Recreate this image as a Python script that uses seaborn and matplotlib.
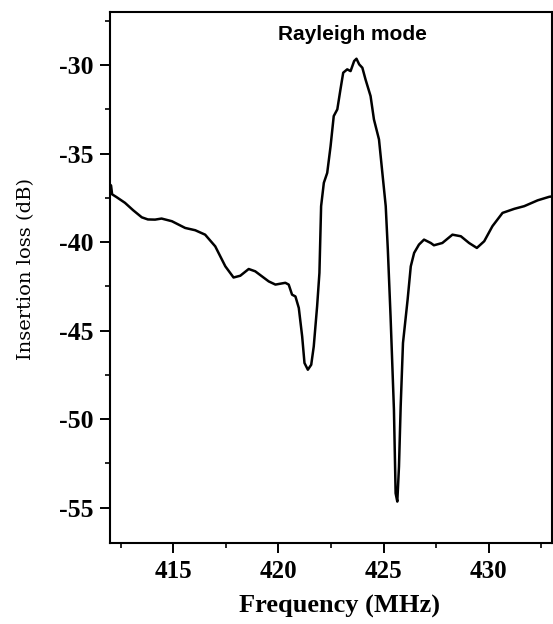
import matplotlib
matplotlib.use("Agg")
import matplotlib.pyplot as plt
import seaborn as sns
import pandas as pd
from matplotlib.ticker import MultipleLocator

freq = [412.00, 412.05, 412.10, 412.30, 412.71, 413.10, 413.51, 413.80, 414.14, 414.45,
        414.94, 415.57, 416.05, 416.52, 417.00, 417.48, 417.87, 418.19, 418.59, 418.90,
        419.54, 419.86, 420.33, 420.49, 420.65, 420.81, 420.97, 421.13, 421.24, 421.40,
        421.56, 421.68, 421.84, 421.95, 422.03, 422.16, 422.32, 422.48, 422.63, 422.80,
        422.95, 423.08, 423.27, 423.43, 423.60, 423.71, 423.84, 423.99, 424.14, 424.38,
        424.54, 424.78, 424.94, 425.10, 425.20, 425.33, 425.49, 425.57, 425.65, 425.73,
        425.81, 425.92, 426.14, 426.29, 426.45, 426.68, 426.92, 427.24, 427.39, 427.79,
        428.27, 428.67, 429.06, 429.43, 429.78, 430.17, 430.65, 431.21, 431.68, 432.32,
        432.87, 433.00]
loss = [-36.75, -36.80, -37.30, -37.45, -37.78, -38.20, -38.60, -38.72, -38.73, -38.67,
        -38.82, -39.20, -39.33, -39.58, -40.24, -41.37, -42.00, -41.90, -41.52, -41.65,
        -42.22, -42.40, -42.30, -42.40, -42.97, -43.07, -43.72, -45.33, -46.83, -47.21,
        -46.93, -45.90, -43.63, -41.74, -37.97, -36.65, -36.09, -34.58, -32.88, -32.50,
        -31.37, -30.43, -30.24, -30.34, -29.77, -29.64, -29.96, -30.15, -30.81, -31.75,
        -33.07, -34.20, -36.09, -37.97, -40.42, -44.20, -49.47, -54.19, -54.66, -52.68,
        -49.29, -45.70, -43.25, -41.37, -40.61, -40.14, -39.86, -40.05, -40.18, -40.05,
        -39.58, -39.67, -40.05, -40.33, -39.95, -39.10, -38.35, -38.12, -37.97, -37.64,
        -37.44, -37.42]

xticks = [415, 420, 425, 430]
yticks = [-30, -35, -40, -45, -50, -55]
title_text = "Rayleigh mode"
xlabel = "Frequency (MHz)"
ylabel = "Insertion loss (dB)"

df = pd.DataFrame({"freq": freq, "loss": loss})

sns.set_style("ticks")
plt.rcParams["font.family"] = ["Liberation Serif", "DejaVu Serif"]
plt.rcParams["axes.unicode_minus"] = False
plt.rcParams["text.color"] = "black"
plt.rcParams["axes.labelcolor"] = "black"

fig = plt.figure(figsize=(5.53, 6.24), dpi=100)
ax = fig.add_axes([110/553, 81/624, 442/553, 531/624])

sns.lineplot(data=df, x="freq", y="loss", ax=ax, color="black", linewidth=1.8, sort=False)

ax.set_xlim(412, 433)
ax.set_ylim(-57, -27)
ax.set_xticks(xticks)
ax.set_yticks(yticks)
ax.xaxis.set_minor_locator(MultipleLocator(2.5))
ax.yaxis.set_minor_locator(MultipleLocator(2.5))
ax.tick_params(which="major", direction="out", length=7, width=1.4, colors="black",
               labelcolor="black", labelsize=18, pad=5)
ax.tick_params(axis="y", which="major", labelsize=18.5, pad=5)
ax.tick_params(which="minor", direction="out", length=3.5, width=1.2, colors="black")
for lab in ax.get_xticklabels() + ax.get_yticklabels():
    lab.set_fontweight("bold")
for s in ax.spines.values():
    s.set_linewidth(1.5)
    s.set_color("black")

ax.set_xlabel(xlabel, fontsize=19, fontweight="bold", color="black")
ax.xaxis.set_label_coords(0.52, -0.098)
ax.set_ylabel(ylabel, fontsize=14, family=["DejaVu Serif"], color="black")
ax.yaxis.set_label_coords(-0.17, 0.516)

ax.text(423.5, -28.26, title_text, ha="center", va="center", fontsize=15,
        fontweight="bold", family=["Liberation Sans", "DejaVu Sans"], color="black")

fig.savefig("out.png", dpi=100)
